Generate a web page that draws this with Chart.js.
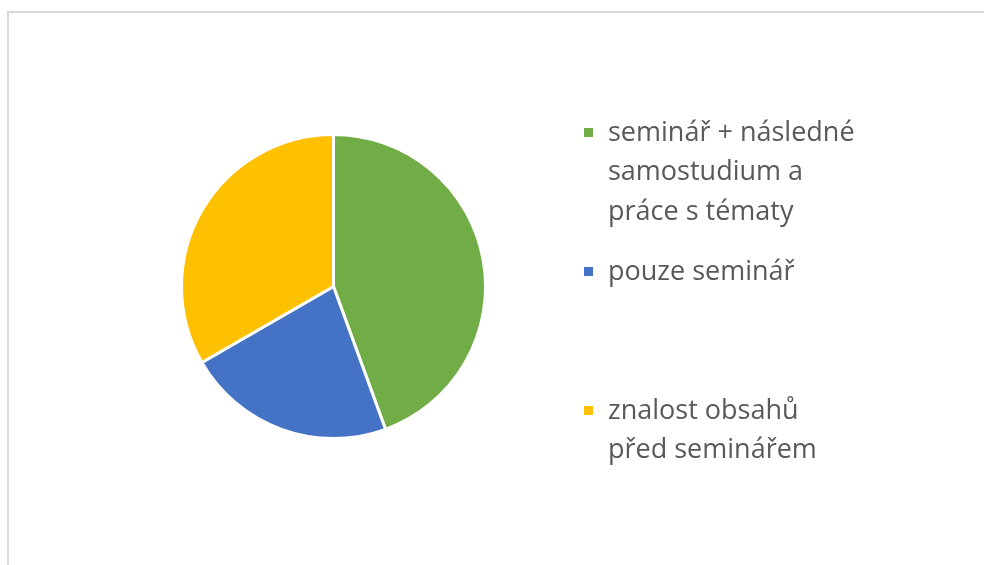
<!DOCTYPE html>
<html>
<head>
<meta charset="utf-8">
<script src="https://cdn.jsdelivr.net/npm/chart.js@4.4.0/dist/chart.umd.min.js"></script>
<style>
  html, body { margin: 0; padding: 0; background: #fff; }
  #wrap { position: relative; width: 984px; height: 565px; overflow: hidden; }
  #frame { position: absolute; left: 7px; top: 11px; width: 1000px; height: 600px;
           border-left: 2px solid #d9d9d9; border-top: 2px solid #d9d9d9; box-sizing: border-box; }
  #graf { position: absolute; left: 0; top: 0; }
</style>
</head>
<body>
<div id="wrap">
  <div id="frame"></div>
  <canvas id="graf" width="984" height="565"></canvas>
</div>
<script>
// Data grafu (popisky po řádcích, jak je zalomí legenda)
const kategorie = [
    ['seminář + následné', 'samostudium a', 'práce s tématy'],
    ['pouze seminář'],
    ['znalost obsahů', 'před seminářem']
];
const hodnoty = [20, 10, 15];
const barvy = ['#70AD47', '#4472C4', '#FFC000'];

// Legenda vpravo (položky rozložené jako v Excelu)
const legendaPlugin = {
    id: 'legendaVpravo',
    afterDraw(chart) {
        const ctx = chart.ctx;
        const x0 = 584;
        const prvniY = 133;
        const krok = 139;
        const radek = 39.5;
        ctx.save();
        ctx.font = '27px "Open Sans"';
        ctx.textBaseline = 'middle';
        chart.data.labels.forEach((radky, i) => {
            const y = prvniY + i * krok;
            ctx.fillStyle = barvy[i];
            ctx.fillRect(x0, y - 5, 9, 9);
            ctx.fillStyle = '#595959';
            radky.forEach((r, j) => ctx.fillText(r, x0 + 24, y + j * radek));
        });
        ctx.restore();
    }
};

new Chart(document.getElementById('graf'), {
    type: 'pie',
    data: {
        labels: kategorie,
        datasets: [{
            data: hodnoty,
            backgroundColor: barvy,
            borderColor: '#ffffff',
            borderWidth: 3
        }]
    },
    options: {
        responsive: false,
        animation: false,
        layout: { padding: { left: 180, right: 497, top: 133, bottom: 125 } },
        plugins: {
            legend: { display: false },
            tooltip: { enabled: false },
            title: { display: false }
        }
    },
    plugins: [legendaPlugin]
});
</script>
</body>
</html>
